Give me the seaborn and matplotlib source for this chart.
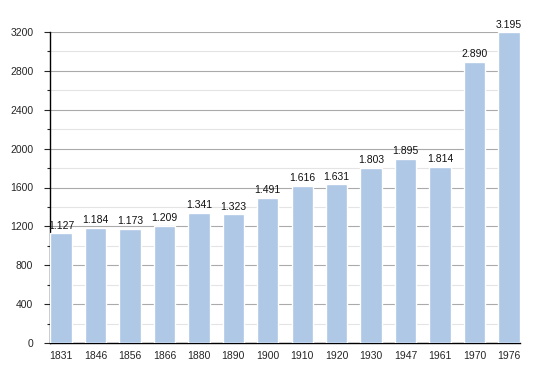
import numpy as np
import matplotlib
matplotlib.use("Agg")
import matplotlib.pyplot as plt
import seaborn as sns
import pandas as pd
from matplotlib.ticker import MultipleLocator

years = ["1831", "1846", "1856", "1866", "1880", "1890", "1900",
         "1910", "1920", "1930", "1947", "1961", "1970", "1976"]
population = [1127, 1184, 1173, 1209, 1341, 1323, 1491,
              1616, 1631, 1803, 1895, 1814, 2890, 3195]

df = pd.DataFrame({"year": years, "population": population})

sns.set_style("white")
plt.rcParams['font.family'] = ['Liberation Sans', 'DejaVu Sans']

fig = plt.figure(figsize=(5.5, 3.73), dpi=100)
ax = fig.add_axes([50 / 550, 1 - 343 / 373, 470 / 550, 311 / 373])

sns.barplot(data=df, x="year", y="population", color="#aec8e6",
            width=0.62, saturation=1, ax=ax, zorder=3)

for i, v in enumerate(population):
    ax.text(i, v + 30, f"{v / 1000:.3f}", ha="center", va="bottom",
            fontsize=7.5, color="#111111")

ax.set_ylim(0, 3200)
ax.set_xlim(-0.32, 13.32)
ax.yaxis.set_major_locator(MultipleLocator(400))
ax.yaxis.set_minor_locator(MultipleLocator(200))
ax.grid(axis="y", which="major", color="#aaaaaa", linewidth=0.8, zorder=0)
ax.grid(axis="y", which="minor", color="#e4e4e4", linewidth=0.8, zorder=0)
ax.set_axisbelow(True)

for s in ["top", "right"]:
    ax.spines[s].set_visible(False)
ax.spines["left"].set_color("black")
ax.spines["bottom"].set_color("black")
ax.spines["left"].set_linewidth(1)
ax.spines["bottom"].set_linewidth(1)

ax.tick_params(axis="y", which="major", left=True, length=4, width=0.8,
               labelsize=7.5, pad=8)
ax.tick_params(axis="y", which="minor", left=True, length=2.5, width=0.8)
ax.tick_params(axis="x", bottom=False, labelsize=7.5, pad=2)
ax.set_xlabel("")
ax.set_ylabel("")

fig.savefig("out.png", dpi=100)
